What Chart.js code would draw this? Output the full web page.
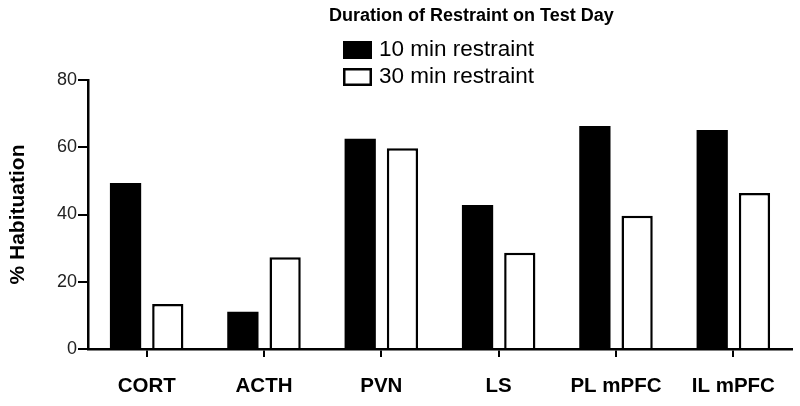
<!DOCTYPE html>
<html>
<head>
<meta charset="utf-8">
<script src="https://cdn.jsdelivr.net/npm/chart.js@4/dist/chart.umd.min.js"></script>
<style>
  html, body { margin: 0; padding: 0; background: #fff; }
  #wrap { width: 800px; height: 406px; position: relative; }
</style>
</head>
<body>
<div id="wrap"><canvas id="c"></canvas></div>
<script>
const categories = ['CORT', 'ACTH', 'PVN', 'LS', 'PL mPFC', 'IL mPFC'];
const tenMin = [49.4, 11.1, 62.5, 42.8, 66.3, 65.1];
const thirtyMin = [13.4, 27.3, 59.7, 28.6, 39.6, 46.4];
const seriesLabels = ['10 min restraint', '30 min restraint'];
const legendTitle = 'Duration of Restraint on Test Day';
const yTitle = '% Habituation';
const yTicks = [0, 20, 40, 60, 80];

Chart.defaults.font.family = "'Liberation Sans', Arial, sans-serif";
Chart.defaults.color = '#000';

const legendPlugin = {
  id: 'customLegend',
  afterDraw(chart) {
    const ctx = chart.ctx;
    ctx.save();
    ctx.fillStyle = '#000';
    ctx.textBaseline = 'middle';
    ctx.textAlign = 'left';
    ctx.font = "bold 18px 'Liberation Sans', Arial, sans-serif";
    ctx.fillText(legendTitle, 329, 16);
    ctx.font = "22.5px 'Liberation Sans', Arial, sans-serif";
    chart.data.datasets.forEach((ds, i) => {
      const by = 41 + i * 27;
      ctx.fillStyle = ds.backgroundColor;
      ctx.fillRect(343, by, 29, 18);
      ctx.lineWidth = 2.5;
      ctx.strokeStyle = '#000';
      ctx.strokeRect(344.25, by + 1.25, 26.5, 15.5);
      ctx.fillStyle = '#000';
      ctx.fillText(ds.label, 379, 50 + i * 26.5);
    });
    ctx.restore();
  }
};

new Chart(document.getElementById('c'), {
  type: 'bar',
  data: {
    labels: categories,
    datasets: [
      { label: seriesLabels[0], data: tenMin, backgroundColor: '#000', borderColor: '#000', borderWidth: 0,
        categoryPercentage: 0.72, barPercentage: 0.74 },
      { label: seriesLabels[1], data: thirtyMin, backgroundColor: '#fff', borderColor: '#000', borderWidth: 2.5,
        categoryPercentage: 0.72, barPercentage: 0.74 }
    ]
  },
  options: {
    responsive: true,
    maintainAspectRatio: false,
    animation: false,
    layout: { padding: { top: 80, right: 8, left: 2, bottom: 0 } },
    plugins: {
      legend: { display: false },
      tooltip: { enabled: false }
    },
    scales: {
      x: {
        afterFit(scale) { scale.height = 57; },
        grid: { display: true, drawOnChartArea: false, drawTicks: true, tickLength: 8, offset: false, color: '#000', lineWidth: 2 },
        border: { display: true, color: '#000', width: 2.5 },
        ticks: { color: '#000', padding: 17, font: { size: 20.5, weight: 'bold' } }
      },
      y: {
        min: 0, max: 80,
        afterFit(scale) { scale.width = 86; },
        afterBuildTicks(scale) { scale.ticks = yTicks.map(v => ({ value: v })); },
        grid: { display: true, drawOnChartArea: false, drawTicks: true, tickLength: 10, color: '#000', lineWidth: 2 },
        border: { display: true, color: '#000', width: 2.5 },
        ticks: { color: '#222', padding: 1, font: { size: 18 } },
        title: { display: true, text: yTitle, color: '#000', font: { size: 21, weight: 'bold' }, padding: { top: 4, bottom: 0 } }
      }
    }
  },
  plugins: [legendPlugin]
});
</script>
</body>
</html>
